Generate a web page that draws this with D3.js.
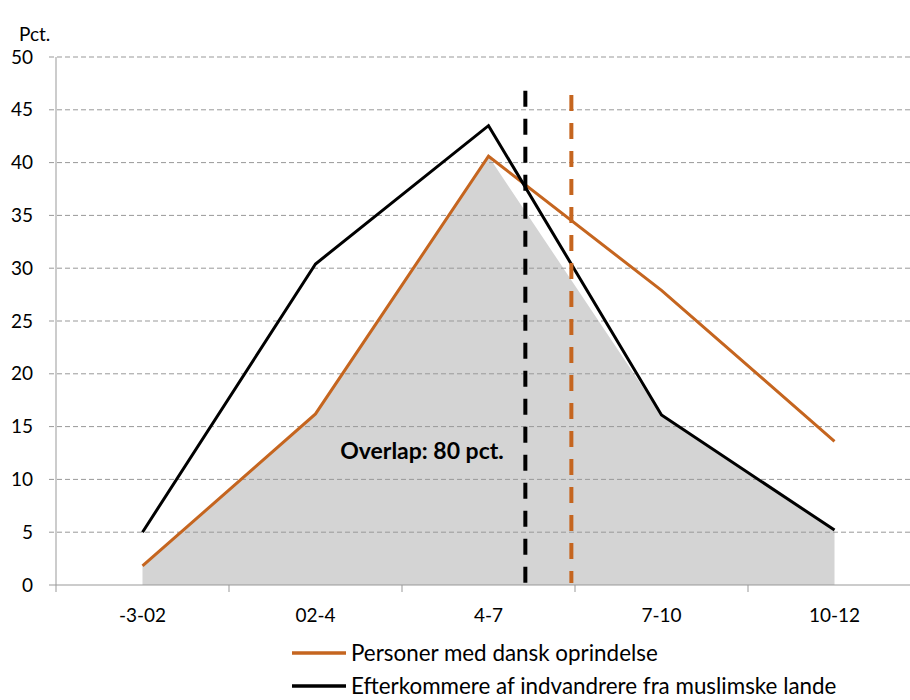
<!DOCTYPE html>
<html>
<head>
<meta charset="utf-8">
<script src="https://cdn.jsdelivr.net/npm/d3@7"></script>
<style>
  body { margin: 0; background: #fff; }
  svg { display: block; font-family: Lato, "Open Sans", sans-serif; }
</style>
</head>
<body>
<svg id="chart" width="910" height="700"></svg>
<script>
// Data
const categories = ['-3-02', '02-4', '4-7', '7-10', '10-12'];
const danishValues = [1.8, 16.2, 40.6, 27.9, 13.6];
const muslimValues = [5.0, 30.4, 43.5, 16.1, 5.2];
const yTicks = [0, 5, 10, 15, 20, 25, 30, 35, 40, 45, 50];
// mean positions, in category-index units, and top of each dashed line
const meanPositions = [2.213, 2.479];
const meanTops = [46.8, 46.4];
const seriesNames = ['Personer med dansk oprindelse', 'Efterkommere af indvandrere fra muslimske lande'];
const seriesColors = ['#c5651f', '#000000'];

const svg = d3.select('#chart');
const plotLeft = 56, bandW = 173;
const plotTop = 57, plotBottom = 585;

const x = d3.scaleBand().domain(categories).range([plotLeft, plotLeft + bandW * categories.length]);
const xc = d => x(d) + x.bandwidth() / 2;
const xIdx = d3.scaleLinear().domain([0, categories.length - 1])
  .range([xc(categories[0]), xc(categories[categories.length - 1])]);
const y = d3.scaleLinear().domain([0, 50]).range([plotBottom, plotTop]);

// overlap area (min of the two series)
const overlap = danishValues.map((v, i) => Math.min(v, muslimValues[i]));
svg.append('path')
  .datum(overlap)
  .attr('fill', '#d4d4d4')
  .attr('d', d3.area()
    .x((d, i) => xc(categories[i]))
    .y0(y(0))
    .y1(d => y(d)));

// gridlines
svg.append('g').selectAll('line')
  .data(yTicks.filter(t => t > 0))
  .join('line')
  .attr('x1', plotLeft - 7).attr('x2', 910)
  .attr('y1', d => y(d)).attr('y2', d => y(d))
  .attr('stroke', '#999').attr('stroke-width', 1)
  .attr('stroke-dasharray', '5,3');

// y axis
const yAxis = svg.append('g')
  .attr('transform', `translate(${plotLeft},0)`)
  .call(d3.axisLeft(y).tickValues(yTicks).tickSize(7).tickPadding(16));
yAxis.select('.domain').attr('stroke', '#999').attr('d', `M0,${y(50)}V${plotBottom + 7}`);
yAxis.selectAll('.tick line').attr('stroke', 'none');
yAxis.selectAll('text').attr('font-size', 19).attr('fill', '#000')
  .attr('font-family', 'Lato, "Open Sans", sans-serif');

// x axis
const xAxis = svg.append('g')
  .attr('transform', `translate(0,${plotBottom})`)
  .call(d3.axisBottom(x).tickSize(0).tickPadding(24));
xAxis.select('.domain').attr('stroke', '#999').attr('d', `M${plotLeft - 7},0H910`);
xAxis.selectAll('text').attr('font-size', 19).attr('fill', '#000')
  .attr('font-family', 'Lato, "Open Sans", sans-serif');
svg.append('g').selectAll('line')
  .data(categories.slice(1))
  .join('line')
  .attr('x1', d => x(d)).attr('x2', d => x(d))
  .attr('y1', plotBottom).attr('y2', plotBottom + 7)
  .attr('stroke', '#999');

// "Pct." label
svg.append('text').attr('x', 19).attr('y', 41)
  .attr('font-size', 19).text('Pct.');

// series lines
const line = d3.line().x((d, i) => xc(categories[i])).y(d => y(d));
[danishValues, muslimValues].forEach((vals, s) => {
  svg.append('path')
    .datum(vals)
    .attr('fill', 'none')
    .attr('stroke', seriesColors[s])
    .attr('stroke-width', 3)
    .attr('stroke-linejoin', 'miter')
    .attr('d', line);
});

// mean lines (black first, orange second)
const meanColors = ['#000000', '#c5651f'];
svg.append('g').selectAll('line')
  .data(meanPositions)
  .join('line')
  .attr('x1', d => xIdx(d)).attr('x2', d => xIdx(d))
  .attr('y1', (d, i) => y(meanTops[i])).attr('y2', y(0) - 2)
  .attr('stroke', (d, i) => meanColors[i])
  .attr('stroke-width', 4)
  .attr('stroke-dasharray', '16,12');

// overlap annotation
svg.append('text')
  .attr('x', 422).attr('y', 459)
  .attr('text-anchor', 'middle')
  .attr('font-size', 23).attr('font-weight', 'bold')
  .text('Overlap: 80 pct.');

// legend
const legend = svg.append('g').selectAll('g')
  .data(seriesNames)
  .join('g')
  .attr('transform', (d, i) => `translate(292,${653 + i * 33})`);
legend.append('line')
  .attr('x1', 0).attr('x2', 54)
  .attr('stroke', (d, i) => seriesColors[i]).attr('stroke-width', 3.5);
legend.append('text')
  .attr('x', 59).attr('dy', '0.35em')
  .attr('font-size', 22.4)
  .text(d => d);
</script>
</body>
</html>
